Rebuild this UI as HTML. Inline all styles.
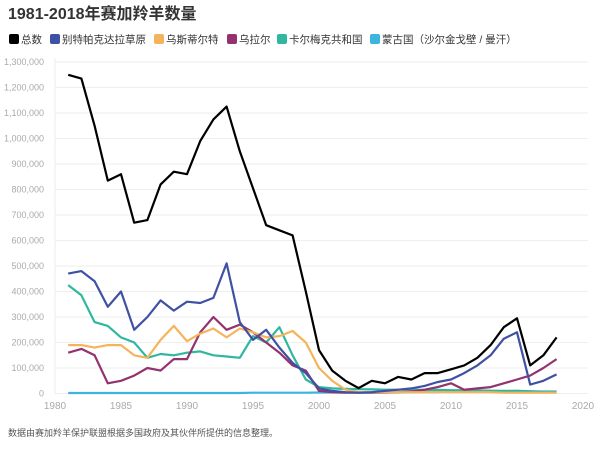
<!DOCTYPE html>
<html><head><meta charset="utf-8"><style>
body{margin:0;background:#fff;font-family:"Liberation Sans","Noto Sans CJK SC",sans-serif;}
</style></head><body>
<svg width="600" height="444" xmlns="http://www.w3.org/2000/svg" font-family="Liberation Sans, Noto Sans CJK SC, sans-serif">
<text x="8" y="19" font-size="16" font-weight="bold" fill="#333">1981-2018年赛加羚羊数量</text>
<g font-size="10.5" fill="#333">
<rect x="9" y="34" width="10" height="10" rx="2" fill="#000"/><text x="21" y="43">总数</text>
<rect x="50" y="34" width="10" height="10" rx="2" fill="#3f51a3"/><text x="62" y="43">别特帕克达拉草原</text>
<rect x="154" y="34" width="10" height="10" rx="2" fill="#f5b45a"/><text x="166" y="43">乌斯蒂尔特</text>
<rect x="227" y="34" width="10" height="10" rx="2" fill="#93326f"/><text x="239" y="43">乌拉尔</text>
<rect x="277" y="34" width="10" height="10" rx="2" fill="#2fb7a0"/><text x="289" y="43">卡尔梅克共和国</text>
<rect x="370" y="34" width="10" height="10" rx="2" fill="#3db4e0"/><text x="382" y="43">蒙古国（沙尔金戈壁 / 曼汗）</text>
</g>
<g stroke="#eee" stroke-width="1" id="grid"></g>
<line x1="55" y1="58" x2="55" y2="394" stroke="#eee"/>
<g font-size="9" fill="#aaa" text-anchor="end" id="yl"></g>
<g font-size="10" fill="#aaa" text-anchor="middle" id="xl"></g>
<g fill="none" stroke-width="2.2" stroke-linejoin="round" id="series"></g>
<text x="8" y="436" font-size="9" fill="#555">数据由赛加羚羊保护联盟根据多国政府及其伙伴所提供的信息整理。</text>
<script>
var NS="http://www.w3.org/2000/svg";
function X(y){return 55+(y-1980)*13.2}
function Y(v){return 393.5-v*25.5/100}
var g=document.getElementById('grid'),yl=document.getElementById('yl'),xl=document.getElementById('xl');
for(var i=0;i<=13;i++){var y=Y(i*100);var l=document.createElementNS(NS,'line');l.setAttribute('x1',55);l.setAttribute('x2',588);l.setAttribute('y1',y);l.setAttribute('y2',y);g.appendChild(l);
var t=document.createElementNS(NS,'text');t.setAttribute('x',44);t.setAttribute('y',y+3);t.textContent=i==0?'0':(i*100000).toLocaleString('en-US');yl.appendChild(t);}
for(var yr=1980;yr<=2020;yr+=5){var t=document.createElementNS(NS,'text');t.setAttribute('x',X(yr));t.setAttribute('y',409);t.textContent=yr;xl.appendChild(t);}
var S=[
["#3db4e0",[2,2,2,2,2,2,2,2,2,2,2,2,2,2,3,3,3,3,3,4,4,4,4,4,5,5,5,6,6,7,8,8,9,9,10,9,8,8]],
["#2fb7a0",[425,385,280,265,220,200,140,155,150,160,165,150,145,140,225,200,260,150,55,25,20,18,17,16,15,15,15,14,14,13,13,12,11,10,10,8,6,5]],
["#93326f",[160,175,150,40,50,70,100,90,135,135,240,300,250,270,240,200,160,110,90,10,5,3,3,3,4,5,8,15,25,40,15,20,25,40,55,70,100,135]],
["#f5b45a",[190,190,180,190,190,150,140,210,265,205,235,255,220,255,240,220,225,245,200,100,50,15,5,5,5,5,5,5,5,5,5,5,5,3,3,3,3,3]],
["#3f51a3",[470,480,440,340,400,250,300,365,325,360,355,375,510,280,210,250,180,120,80,20,10,5,3,5,10,15,20,30,45,55,80,110,150,215,240,35,50,75]],
["#000",[1250,1235,1050,835,860,670,680,820,870,860,990,1075,1125,950,805,660,640,620,400,170,90,50,21,50,40,65,55,80,80,95,110,140,190,260,295,110,150,220]]];
var sg=document.getElementById('series');
S.forEach(function(s){var p=s[1].map(function(v,i){return X(1981+i).toFixed(1)+','+Y(v).toFixed(1)}).join(' ');
var pl=document.createElementNS(NS,'polyline');pl.setAttribute('points',p);pl.setAttribute('stroke',s[0]);sg.appendChild(pl);});
</script>
</svg>
</body></html>
